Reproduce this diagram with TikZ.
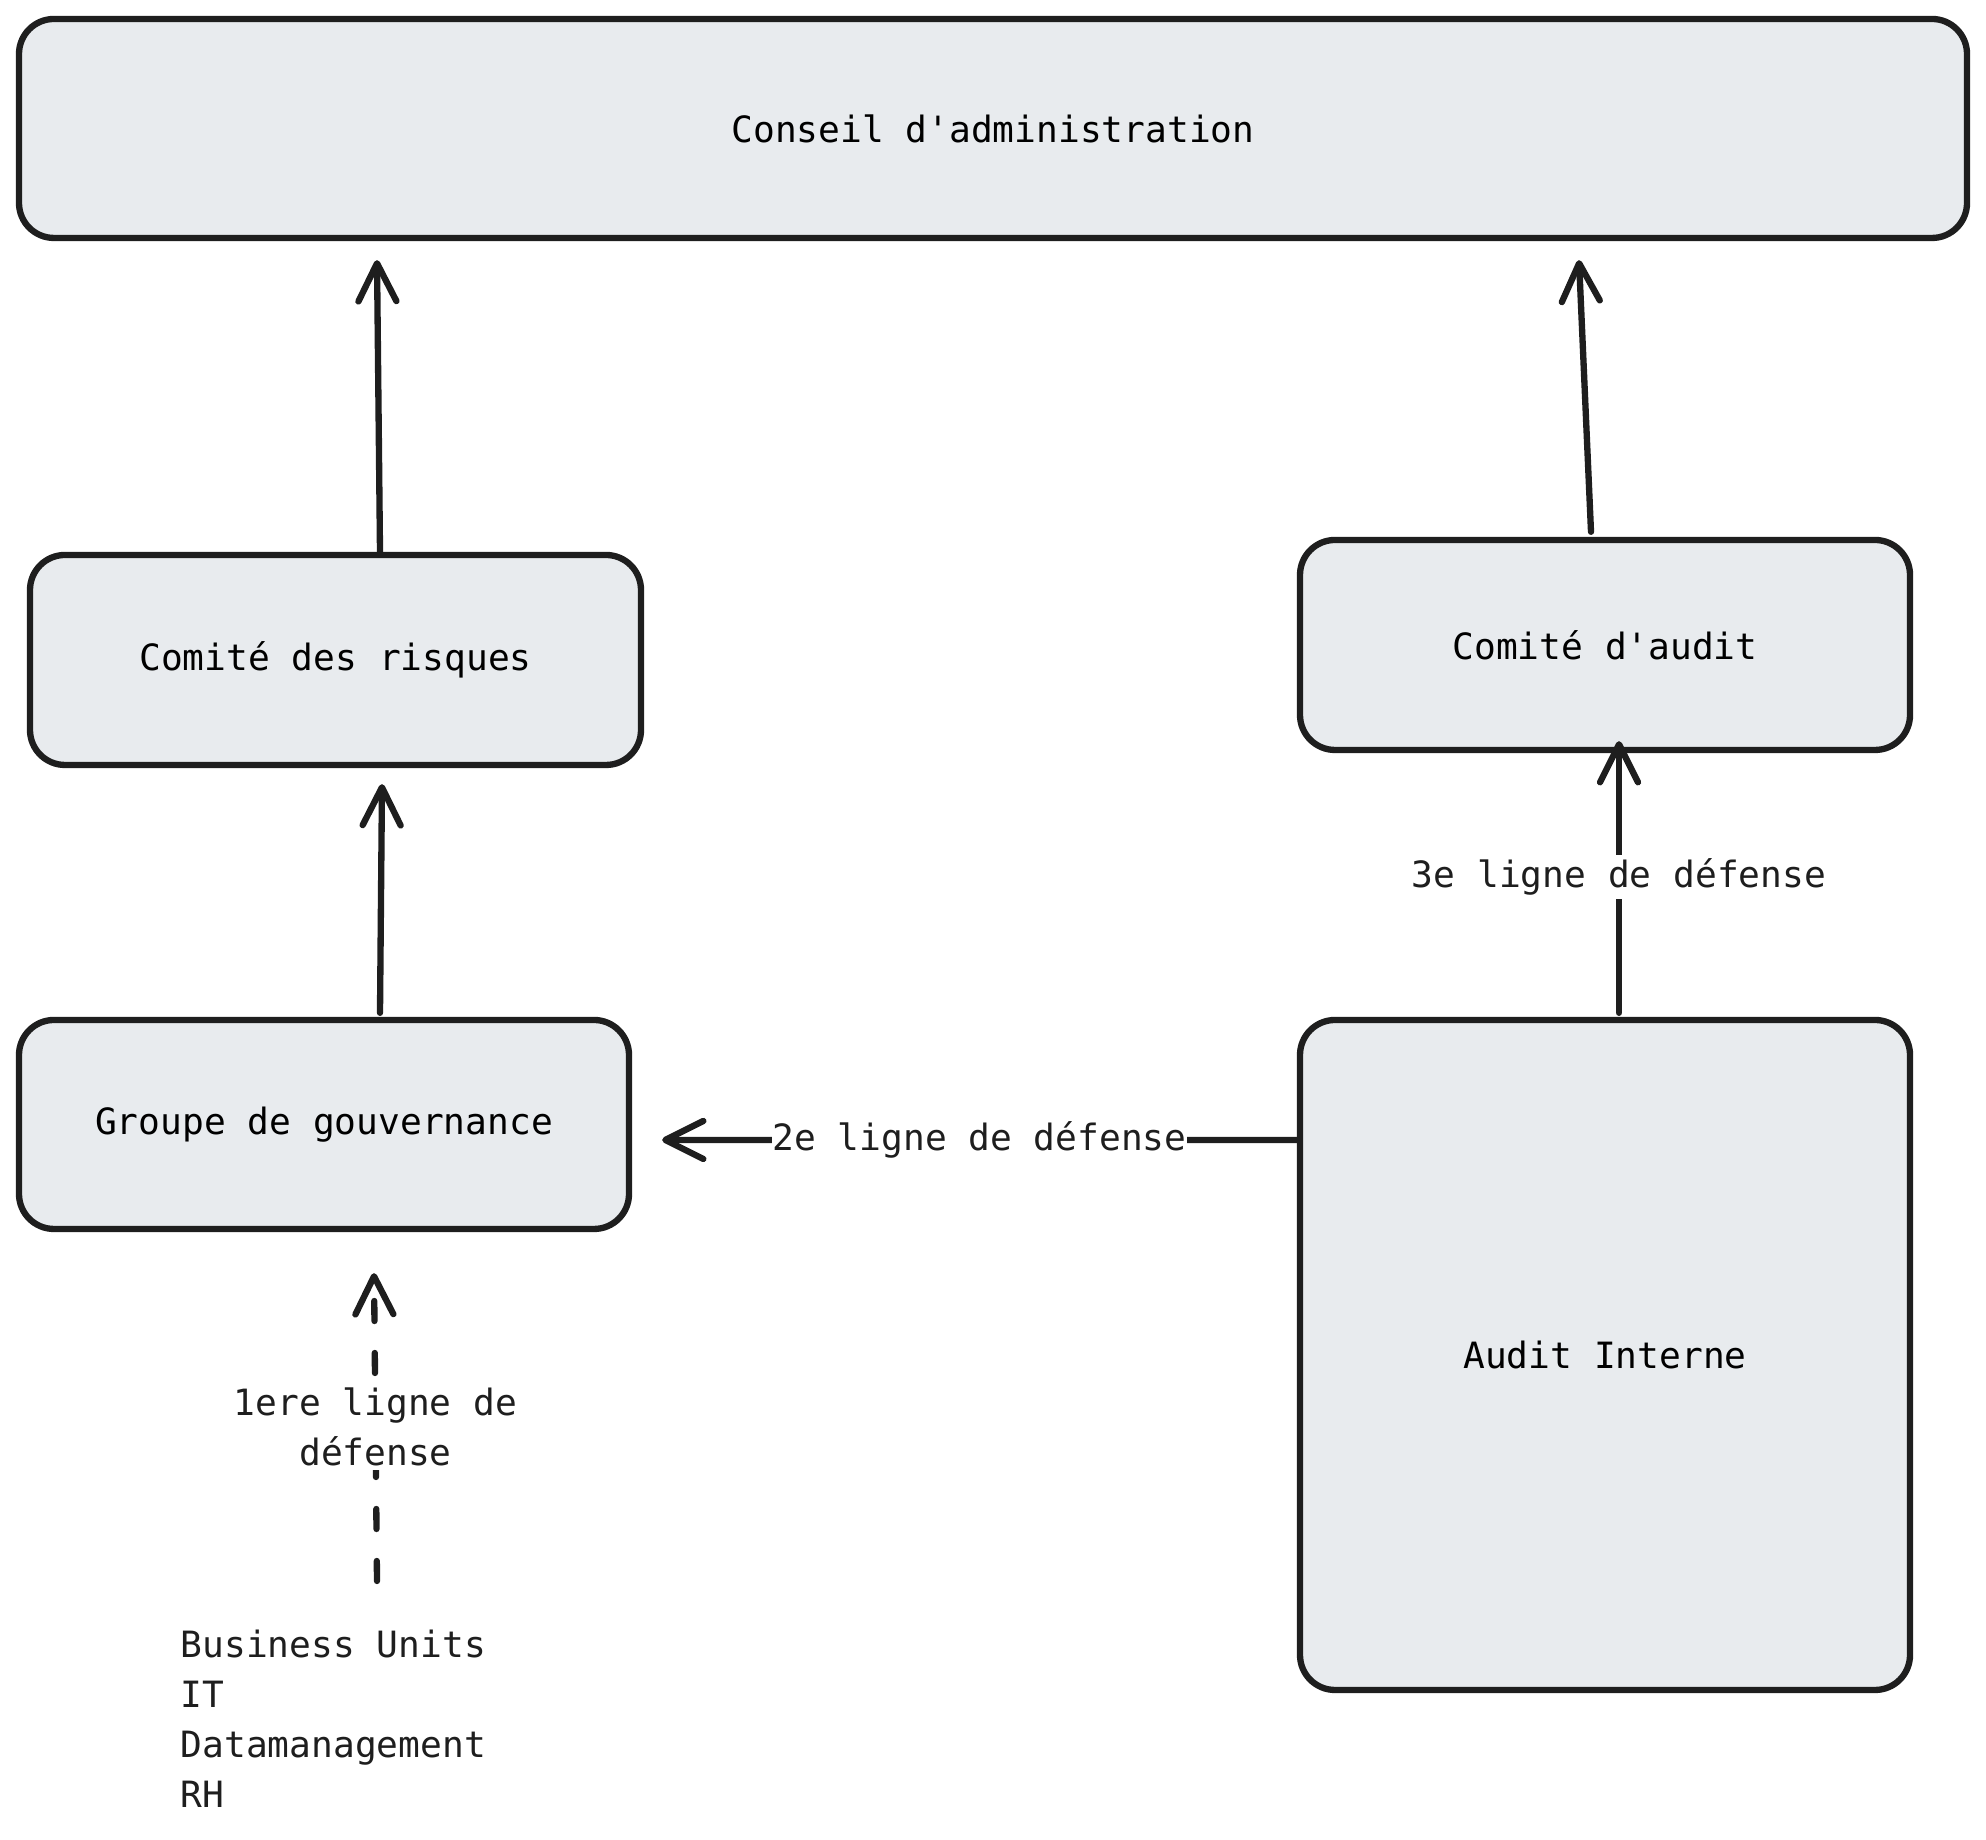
\documentclass[tikz,border=0pt]{standalone}
\usepackage{fontspec}
\setmonofont{DejaVu Sans Mono}
\usetikzlibrary{arrows.meta}
\definecolor{boxfill}{HTML}{E8EBEE}
\definecolor{ink}{HTML}{1E1E1E}
\begin{document}
\begin{tikzpicture}[font=\ttfamily\fontsize{10.3}{14.2}\selectfont,
  box/.style={draw=ink, fill=boxfill, line width=1.8pt, rounded corners=0.35cm,
    minimum width=#1, align=center},
  arr/.style={draw=ink, line width=1.8pt, line cap=round,
    -{Straight Barb[length=3.8mm,width=3.8mm,round]}},
  lbl/.style={fill=white, inner sep=1pt, text=ink, align=center}]
  \useasboundingbox (0,0) rectangle (19.86,18.4);

  % boxes
  \node[box=19.48cm, minimum height=2.19cm] (conseil) at (9.93,17.115) {Conseil d'administration};
  \node[box=6.11cm, minimum height=2.10cm] (risques) at (3.355,11.80) {Comité des risques};
  \node[box=6.10cm, minimum height=2.10cm] (auditc) at (16.05,11.95) {Comité d'audit};
  \node[box=6.10cm, minimum height=2.09cm] (groupe) at (3.24,7.155) {Groupe de gouvernance};
  \node[box=6.10cm, minimum height=6.70cm] (interne) at (16.05,4.85) {Audit Interne};
  \node[anchor=west, inner sep=0pt, align=left, text=ink] (units) at (1.80,1.21)
    {Business Units\\IT\\Datamanagement\\RH};
  \coordinate (unitstop) at (3.77,2.59);

  % up to the board
  \draw[arr] ([xshift=0.445cm]risques.north) -- ([xshift=-6.16cm,yshift=-0.19cm]conseil.south);
  \draw[arr] ([xshift=-0.14cm,yshift=0.05cm]auditc.north) -- ([xshift=5.86cm,yshift=-0.19cm]conseil.south);
  \draw[arr] ([xshift=0.56cm,yshift=0.04cm]groupe.north) -- ([xshift=0.465cm,yshift=-0.16cm]risques.south);

  % lines of defence
  \draw[arr] ([xshift=0.14cm,yshift=0.04cm]interne.north) -- node[lbl] {3e ligne de défense}
    ([xshift=0.14cm,yshift=0.12cm]auditc.south);
  \draw[arr] ([yshift=2.15cm]interne.west) -- node[lbl, inner sep=0pt] {2e ligne de défense}
    ([xshift=0.30cm,yshift=-0.155cm]groupe.east);
  \draw[arr, dash pattern=on 2mm off 3.2mm] (unitstop) -- node[lbl] {1ere ligne de\\défense}
    ([xshift=0.50cm,yshift=-0.41cm]groupe.south);
\end{tikzpicture}
\end{document}
